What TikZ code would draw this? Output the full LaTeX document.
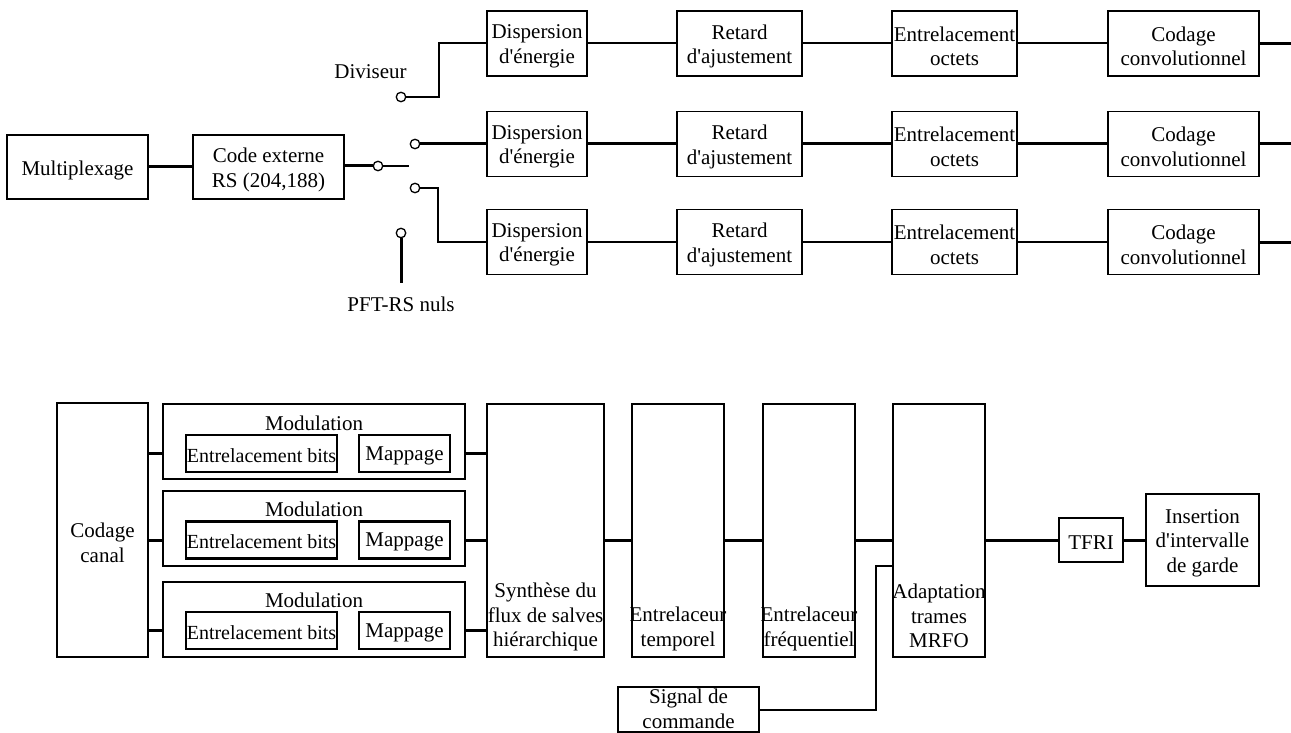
\documentclass[tikz,border=0pt]{standalone}
\usepackage{fontspec}
\setmainfont{Liberation Serif}
\newcommand\ap{\textquotesingle}
\begin{document}
\begin{tikzpicture}[x=1pt,y=-1pt,
  every node/.style={font=\fontsize{21}{24.5}\selectfont},
  blk/.style={draw, line width=1.4pt, inner sep=0pt},
  modbox/.style={draw, line width=2.4pt, inner sep=0pt},
  inbox/.style={draw, line width=2.2pt, inner sep=0pt},
  txt/.style={inner sep=0pt, align=center},
  sw/.style={circle, draw, fill=white, inner sep=0pt, minimum size=9.5pt, line width=1.3pt},
  thk/.style={line width=3pt},
  thn/.style={line width=2pt}]
\useasboundingbox (0,0) rectangle (1291,733);

% box with its text, text set a little low as in the reference
\newcommand\bx[7][blk]{%
  \node[#1, minimum width=#5, minimum height=#6] (#2) at (#3,#4) {};
  \node[txt, yshift=-3pt] (#2t) at (#2.center) {#7};}

% ---------- top part ----------
\bx{mux}{77.5}{167}{141}{64}{Multiplexage}
\bx{rs}{268.5}{167}{151}{64}{Code externe\\RS (204,188)}
\draw[thk] (mux) -- (rs);

\node[sw] (c0) at (378,166) {};
\coordinate (arm) at (409,166);
\node[sw] (c1) at (401,97) {};
\node[sw] (c2) at (415,144) {};
\node[sw] (c3) at (415,188) {};
\node[sw] (c4) at (401,233) {};
\draw[thk] (rs.east |- c0) -- (c0.west);
\draw[thn] (c0.east) -- (arm);

\node[txt] (div) at (370.5,72) {Diviseur};
\node[txt] (pft) at (401,304) {PFT-RS nuls};
\coordinate (pftend) at (401,283);
\draw[thk] (c4.south) -- (pftend);

\foreach \r/\y in {1/43.5,2/144,3/242}{
  \bx{disp\r}{537}{\y}{100}{65}{Dispersion\\d\ap énergie}
  \bx{ret\r}{739.5}{\y}{125}{65}{Retard\\d\ap ajustement}
  \bx{oct\r}{954.5}{\y}{125}{65}{Entrelacement\\octets}
  \bx{conv\r}{1183.5}{\y}{151}{65}{Codage\\convolutionnel}
  \coordinate (out\r) at (1291,\y);
}
\draw[thn] (c1.east) -- (439,97) -- (439,43.5) -- (disp1.west);
\draw[thk] (c2.east) -- (disp2.west);
\draw[thn] (c3.east) -- (438,188) -- (438,242) -- (disp3.west);

\draw[thn] (disp1) -- (ret1);  \draw[thn] (ret1) -- (oct1);  \draw[thn] (oct1) -- (conv1);  \draw[thk] (conv1.east) -- (out1);
\draw[thk] (disp2) -- (ret2);  \draw[thk] (ret2) -- (oct2);  \draw[thk] (oct2) -- (conv2);  \draw[thk] (conv2.east) -- (out2);
\draw[thn] (disp3) -- (ret3);  \draw[thn] (ret3) -- (oct3);  \draw[thn] (oct3) -- (conv3);  \draw[thk] (conv3.east) -- (out3);

% ---------- bottom part ----------
\node[blk, minimum width=91, minimum height=254] (cc) at (102.5,530) {};
\node[txt] (cct) at (102.5,543) {Codage\\canal};

\node[blk, minimum width=117, minimum height=253] (syn) at (545.5,530.5) {};
\node[txt] (synt) at (545.5,617) {Synthèse du\\flux de salves\\hiérarchique};

\foreach \r/\yc/\yl/\yi in {1/441.5/423/453.5, 2/528.5/509/540, 3/619.5/600/630.5}{
  \node[modbox, minimum width=302, minimum height=75] (mod\r) at (314,\yc) {};
  \node[txt] (modt\r) at (314,\yl) {Modulation};
  \node[inbox, minimum width=151, minimum height=37] (bits\r) at (261.5,\yi) {};
  \node[txt, yshift=-2pt, font=\fontsize{20}{22}\selectfont] (bitst\r) at (bits\r.center) {Entrelacement bits};
  \node[inbox, minimum width=91, minimum height=37] (map\r) at (404.5,\yi) {};
  \node[txt, yshift=-2pt] (mapt\r) at (map\r.center) {Mappage};
  \draw[thk] (cc.east |- bits\r) -- (mod\r.west |- bits\r);
  \draw[thk] (mod\r.east |- bits\r) -- (syn.west |- bits\r);
}

\node[blk, minimum width=92, minimum height=253] (tem) at (678,530.5) {};
\node[txt] (temt) at (678,629) {Entrelaceur\\temporel};
\node[blk, minimum width=92, minimum height=253] (frq) at (809,530.5) {};
\node[txt] (frqt) at (809,629) {Entrelaceur\\fréquentiel};
\node[blk, minimum width=92, minimum height=253] (ada) at (939,530.5) {};
\node[txt] (adat) at (939,616) {Adaptation\\trames\\MRFO};

\bx{tfri}{1091}{540}{64}{44}{TFRI}
\bx{ins}{1202.5}{540}{113}{92}{Insertion\\d\ap intervalle\\de garde}

\draw[thk] (syn.east |- tfri) -- (tem.west |- tfri);
\draw[thk] (tem.east |- tfri) -- (frq.west |- tfri);
\draw[thk] (frq.east |- tfri) -- (ada.west |- tfri);
\draw[thk] (ada.east |- tfri) -- (tfri.west);
\draw[thk] (tfri.east) -- (ins.west);

\node[blk, minimum width=141, minimum height=45] (sig) at (688.5,709.5) {};
\node[txt] (sigt) at (688.5,709) {Signal de\\commande};
\draw[thn] (sig.east |- 0,710) -- (876,710) -- (876,566) -- (ada.west |- 0,566);
\end{tikzpicture}
\end{document}
